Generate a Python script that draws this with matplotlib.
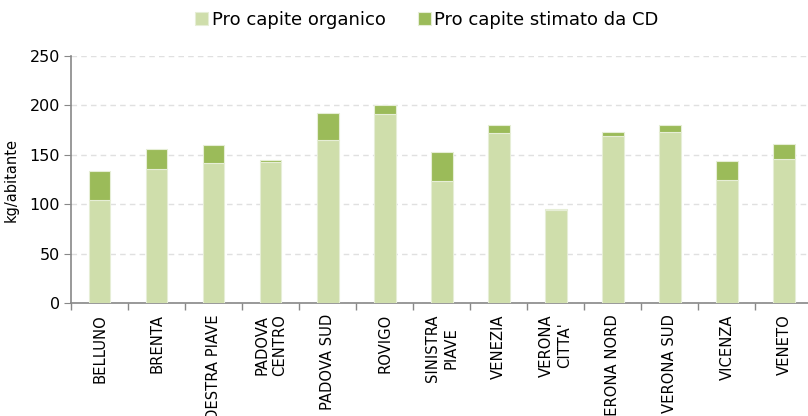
import numpy as np
import matplotlib.pyplot as plt
from matplotlib.ticker import FixedLocator

plt.rcParams['font.family'] = ['DejaVu Sans Condensed', 'DejaVu Sans']

categories = ["BELLUNO", "BRENTA", "DESTRA PIAVE", "PADOVA\nCENTRO", "PADOVA SUD",
              "ROVIGO", "SINISTRA\nPIAVE", "VENEZIA", "VERONA\nCITTA'", "VERONA NORD",
              "VERONA SUD", "VICENZA", "VENETO"]
organico = [104, 136, 141.7, 143, 165, 191, 123.5, 171.8, 94.5, 168.7, 172.8, 124.5, 145.7]
totale = [134, 155.5, 159.6, 144.7, 192, 200.4, 153, 180, 95.5, 172.8, 180, 143.7, 161]
stimato_cd = [t - o for t, o in zip(totale, organico)]

c_org = "#CFDEAB"
c_cd = "#9BBB59"

fig = plt.figure(figsize=(8.08, 4.16), dpi=100)
ax = fig.add_axes([71 / 808, 113 / 416, 741.5 / 808, 247 / 416])

x = np.arange(len(categories))
w = 0.38
ax.bar(x, organico, w, color=c_org, edgecolor="#E6EED6", linewidth=0.8,
       label="Pro capite organico", zorder=3)
ax.bar(x, stimato_cd, w, bottom=organico, color=c_cd, edgecolor="#E6EED6",
       linewidth=0.8, label="Pro capite stimato da CD", zorder=3)

ax.set_xlim(-0.5, len(categories) - 0.5)
ax.set_ylim(0, 250)
ax.set_yticks(np.arange(0, 251, 50))
ax.yaxis.grid(True, color="#E0E0E0", linestyle=(0, (4, 3)), linewidth=1, zorder=0)

ax.set_xticks(x)
ax.set_xticklabels(categories, rotation=90, va="top", ha="center",
                   multialignment="center", fontsize=10.6, linespacing=1.25)
ax.tick_params(axis="x", which="major", length=0, pad=8)
ax.xaxis.set_minor_locator(FixedLocator(np.arange(-0.5, len(categories), 1)))
ax.tick_params(axis="x", which="minor", length=5, color="#888888", width=1)
ax.tick_params(axis="y", length=5, color="#888888", pad=3, labelsize=11.5)

for s in ["top", "right"]:
    ax.spines[s].set_visible(False)
for s in ["left", "bottom"]:
    ax.spines[s].set_color("#888888")
    ax.spines[s].set_linewidth(1.2)

ax.set_ylabel("kg/abitante", fontsize=10.5)
ax.yaxis.set_label_coords(-52 / 741.5, 0.5)

leg = fig.legend(loc="center", bbox_to_anchor=(427 / 808, 1 - 20 / 416), ncol=2,
                 frameon=False, fontsize=13, handlelength=0.7, handleheight=0.7,
                 handletextpad=0.2, columnspacing=1.8)

fig.savefig("out.png", dpi=100)
